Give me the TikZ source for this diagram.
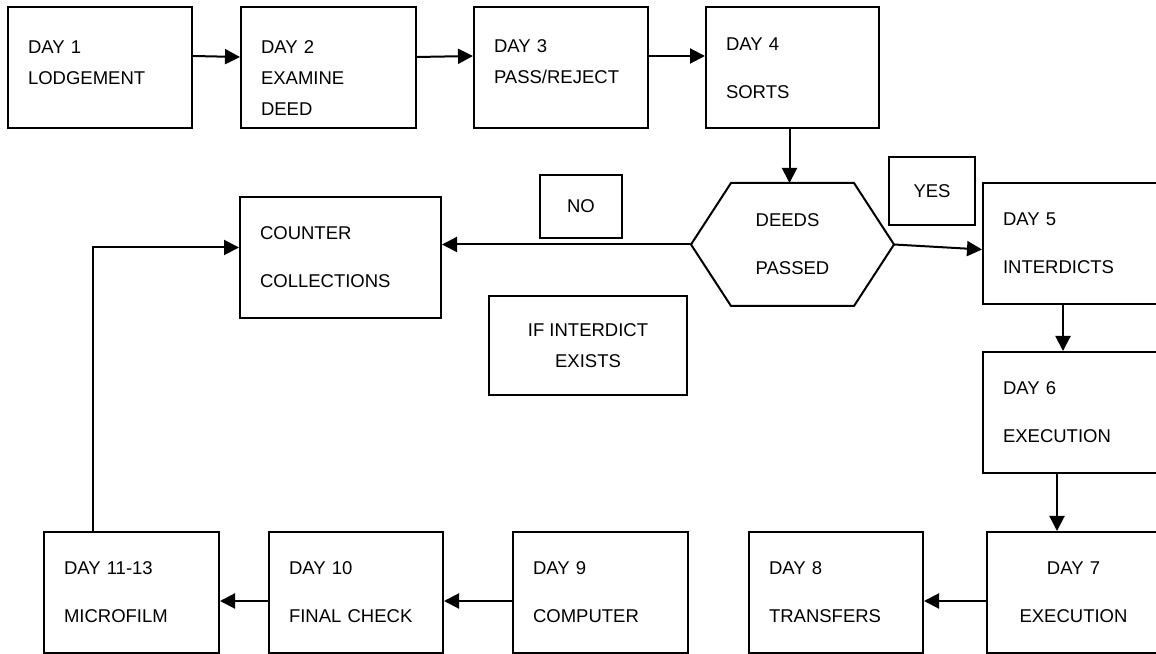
\documentclass[tikz,border=0pt]{standalone}
\usepackage{fontspec}
\setmainfont{Liberation Sans}
\usetikzlibrary{arrows.meta}
\tikzset{
  stage/.style={draw,rectangle,line width=2bp,minimum height=121bp,inner xsep=20bp,align=left},
  tag/.style={draw,rectangle,line width=2bp,align=center},
}
\begin{document}
\begin{tikzpicture}[>={Triangle[length=15bp,width=15bp]},line width=2bp,font=\fontsize{18.5bp}{31bp}\selectfont]
        \useasboundingbox (0bp,0bp) rectangle (1156bp,654bp);
        \clip (0bp,0bp) rectangle (1156bp,654bp);
        %%
        \node (d1) at (100bp,586bp) [stage,text width=144bp] {DAY 1\\LODGEMENT\\[-20bp]\mbox{}};
        \node (d2) at (328.5bp,586bp) [stage,text width=135bp] {\mbox{}\\[2bp]DAY 2\\EXAMINE\\DEED};
        \node (d3) at (561bp,586bp) [stage,text width=134bp] {DAY 3\\PASS/REJECT\\[-18bp]\mbox{}};
        \node (d4) at (792.5bp,586bp) [stage,text width=133bp] {DAY 4\\[17bp]SORTS};
        \node (hex) at (792.5bp,409.5bp) [minimum width=201bp,minimum height=121bp,align=left] {DEEDS\\[17bp]PASSED};
        \node (yes) at (932bp,463bp) [tag,minimum width=86bp,minimum height=68bp] {YES};
        \node (no) at (581bp,447.5bp) [tag,minimum width=82bp,minimum height=63bp] {NO};
        \node (counter) at (340.5bp,396.5bp) [stage,text width=161bp] {COUNTER\\[17bp]COLLECTIONS};
        \node (ifx) at (588bp,308.5bp) [tag,minimum width=198bp,minimum height=99bp] {IF INTERDICT\\EXISTS};
        \node (d5) at (1071bp,410.5bp) [stage,text width=136bp] {DAY 5\\[17bp]INTERDICTS};
        \node (d6) at (1071bp,241.5bp) [stage,text width=136bp] {DAY 6\\[17bp]EXECUTION};
        \node (d7) at (1073.5bp,61.5bp) [stage,text width=133bp,align=center] {DAY 7\\[17bp]EXECUTION};
        \node (d8) at (836bp,61.5bp) [stage,text width=134bp] {DAY 8\\[17bp]TRANSFERS};
        \node (d9) at (600.5bp,61.5bp) [stage,text width=135bp] {DAY 9\\[17bp]COMPUTER};
        \node (d10) at (356bp,61.5bp) [stage,text width=134bp] {DAY 10\\[17bp]FINAL CHECK};
        \node (d11) at (131.5bp,61.5bp) [stage,text width=135bp] {DAY 11-13\\[17bp]MICROFILM};
        % decision outline
        \draw (hex.west) -- ([xshift=40bp]hex.north west) -- ([xshift=-40bp]hex.north east)
              -- (hex.east) -- ([xshift=-40bp]hex.south east) -- ([xshift=40bp]hex.south west) -- cycle;
        %
        \draw [->] ([yshift=12bp]d1.east) -- ([yshift=11bp]d2.west);
        \draw [->] ([yshift=11bp]d2.east) -- ([yshift=12bp]d3.west);
        \draw [->] ([yshift=12bp]d3.east) -- ([yshift=12bp]d4.west);
        \draw [->] ([xshift=-3bp]d4.south) -- ([xshift=-3bp]hex.north);
        \draw [->] (hex.west) -- (hex.west -| counter.east);
        \draw [->] (hex.east) -- ([yshift=-6bp]d5.west);
        \draw [->] ([xshift=-8bp]d5.south) -- ([xshift=-8bp]d6.north);
        \draw [->] ([xshift=-14bp]d6.south) -- ([xshift=-16.5bp]d7.north);
        \draw [->] ([yshift=-8.5bp]d7.west) -- ([yshift=-8.5bp]d8.east);
        \draw [->] ([yshift=-8.5bp]d9.west) -- ([yshift=-8.5bp]d10.east);
        \draw [->] ([yshift=-8.5bp]d10.west) -- ([yshift=-8.5bp]d11.east);
        \draw [->] ([xshift=-38.5bp]d11.north) |- ([yshift=10bp]counter.west);
        %
    \end{tikzpicture}
\end{document}
